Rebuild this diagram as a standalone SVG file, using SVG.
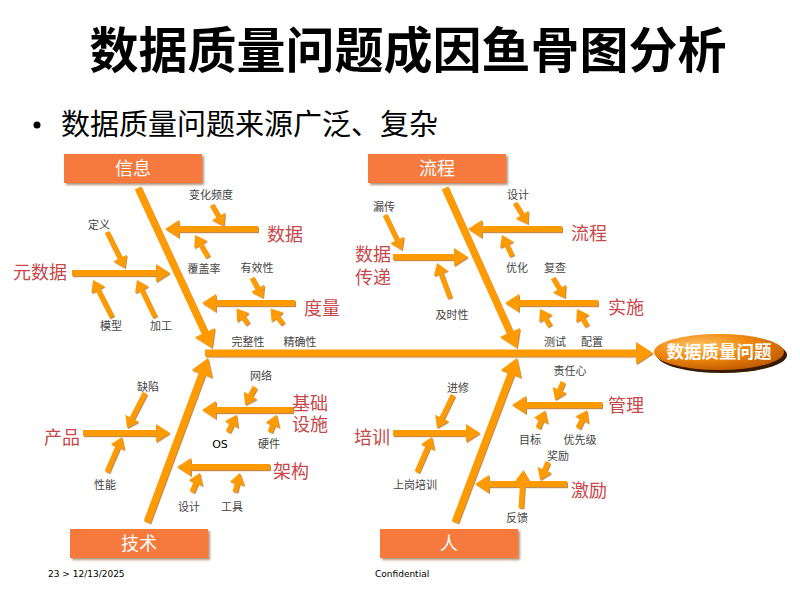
<svg xmlns="http://www.w3.org/2000/svg" width="800" height="600" viewBox="0 0 800 600">
<defs>
<style>
.title{font-family:"Noto Sans CJK SC","Noto Sans",sans-serif;font-weight:bold;font-size:49px;fill:#000;text-anchor:middle}
.bullet{font-family:"Noto Sans CJK SC","Noto Sans",sans-serif;font-size:29px;fill:#000}
.box{fill:#F6793C}
.boxt{font-family:"Noto Sans CJK SC",sans-serif;font-size:18px;fill:#fff;text-anchor:middle}
.red{font-family:"Noto Sans CJK SC",sans-serif;font-size:18px;fill:#C8474A;text-anchor:middle}
.sm{font-family:"Noto Sans CJK SC",sans-serif;font-size:11px;fill:#444;text-anchor:middle}
.os{font-family:"DejaVu Sans",sans-serif;font-size:11px;fill:#000;text-anchor:middle}
.foot{font-family:"DejaVu Sans",sans-serif;font-size:9px;fill:#000}
.bone{stroke:#FF9A00;stroke-width:7;fill:none;marker-end:url(#hb)}
.sub{stroke:#FF9A00;stroke-width:6;fill:none;marker-end:url(#hs)}
.twig{stroke:#FF9A00;stroke-width:5;fill:none;marker-end:url(#ht)}
</style>
<marker id="hb" markerUnits="userSpaceOnUse" markerWidth="18" markerHeight="22" refX="1" refY="11" orient="auto" overflow="visible"><path d="M0,0 L17,11 L0,22 z" fill="#FF9A00"/></marker>
<marker id="hs" markerUnits="userSpaceOnUse" markerWidth="14" markerHeight="18" refX="1" refY="9" orient="auto" overflow="visible"><path d="M0,0 L14,9 L0,18 z" fill="#FF9A00"/></marker>
<marker id="ht" markerUnits="userSpaceOnUse" markerWidth="11" markerHeight="15" refX="1" refY="7.5" orient="auto" overflow="visible"><path d="M0,0 L11,7.5 L0,15 z" fill="#FF9A00"/></marker>
<filter id="sh" x="-10%" y="-10%" width="130%" height="130%"><feDropShadow dx="1" dy="1.2" stdDeviation="0.6" flood-color="#A85A00" flood-opacity="0.7"/></filter>
<filter id="bsh" x="-10%" y="-20%" width="130%" height="150%"><feDropShadow dx="2" dy="2" stdDeviation="1" flood-color="#8a4a20" flood-opacity="0.6"/></filter>
<radialGradient id="eg" cx="0.35" cy="0.3" r="0.75"><stop offset="0" stop-color="#FFC060"/><stop offset="0.5" stop-color="#F08A10"/><stop offset="1" stop-color="#C05A00"/></radialGradient>
</defs>
<rect width="800" height="600" fill="#fff"/>
<text class="title" x="408" y="68">数据质量问题成因鱼骨图分析</text>
<circle cx="37" cy="125" r="3.5" fill="#000"/>
<text class="bullet" x="61" y="135">数据质量问题来源广泛、复杂</text>

<g id="connectors" filter="url(#sh)">
<line class="bone" x1="205" y1="353" x2="637" y2="353"/>
<line class="bone" x1="138" y1="188" x2="205.3" y2="333.5"/>
<line class="bone" x1="445" y1="188" x2="510.4" y2="333.4"/>
<line class="bone" x1="147" y1="522" x2="202.4" y2="373"/>
<line class="bone" x1="455" y1="522" x2="511.3" y2="373"/>
<line class="sub" x1="258" y1="229" x2="178" y2="229"/>
<line class="sub" x1="72" y1="273" x2="157" y2="273"/>
<line class="sub" x1="295" y1="303" x2="215" y2="303"/>
<line class="sub" x1="562" y1="229" x2="481" y2="229"/>
<line class="sub" x1="393" y1="257" x2="455" y2="257"/>
<line class="sub" x1="598" y1="303" x2="518" y2="303"/>
<line class="sub" x1="293" y1="410" x2="215" y2="410"/>
<line class="sub" x1="270" y1="467" x2="190" y2="467"/>
<line class="sub" x1="83" y1="433" x2="157" y2="433"/>
<line class="sub" x1="393" y1="433" x2="467" y2="433"/>
<line class="sub" x1="602" y1="405" x2="525" y2="405"/>
<line class="sub" x1="567" y1="484" x2="488" y2="484"/>
<line class="twig" x1="212" y1="205" x2="219" y2="217.3"/>
<line class="twig" x1="208" y1="257" x2="200.1" y2="243.6"/>
<line class="twig" x1="107" y1="232" x2="120.5" y2="259.1"/>
<line class="twig" x1="112" y1="317" x2="97.6" y2="288.9"/>
<line class="twig" x1="155" y1="317" x2="141.4" y2="289"/>
<line class="twig" x1="252" y1="278" x2="258.2" y2="289.2"/>
<line class="twig" x1="248" y1="324" x2="242.5" y2="316.6"/>
<line class="twig" x1="283" y1="324" x2="276.8" y2="316.3"/>
<line class="twig" x1="515" y1="203" x2="522.7" y2="215.5"/>
<line class="twig" x1="512" y1="256" x2="506.3" y2="244"/>
<line class="twig" x1="385" y1="215" x2="397.6" y2="241"/>
<line class="twig" x1="450" y1="298" x2="440.5" y2="272.4"/>
<line class="twig" x1="553" y1="278" x2="559.9" y2="289.4"/>
<line class="twig" x1="550" y1="326" x2="545.1" y2="317.6"/>
<line class="twig" x1="587" y1="326" x2="582.1" y2="317.6"/>
<line class="twig" x1="255" y1="387" x2="249.9" y2="396.3"/>
<line class="twig" x1="228" y1="432" x2="232.1" y2="423.7"/>
<line class="twig" x1="270" y1="432" x2="273" y2="424.2"/>
<line class="twig" x1="192" y1="492" x2="196.1" y2="482.2"/>
<line class="twig" x1="235" y1="492" x2="237.4" y2="482.7"/>
<line class="twig" x1="145" y1="393" x2="131.6" y2="419.1"/>
<line class="twig" x1="107" y1="472" x2="118.1" y2="446.2"/>
<line class="twig" x1="453" y1="395" x2="441.4" y2="419"/>
<line class="twig" x1="417" y1="472" x2="428.1" y2="446.2"/>
<line class="twig" x1="563" y1="382" x2="559.1" y2="390.9"/>
<line class="twig" x1="538" y1="428" x2="541.4" y2="419.7"/>
<line class="twig" x1="578" y1="428" x2="582.5" y2="419.1"/>
<line class="twig" x1="548" y1="462" x2="544.1" y2="470.9"/>
<line class="twig" x1="521" y1="508" x2="522.8" y2="480.2"/>
</g>

<g id="info"><rect class="box" x="64" y="154" width="138" height="29" filter="url(#bsh)"/><text class="boxt" x="133" y="175">信息</text></g>
<g id="process"><rect class="box" x="368" y="154" width="138" height="29" filter="url(#bsh)"/><text class="boxt" x="437" y="175">流程</text></g>
<g id="tech"><rect class="box" x="70" y="529" width="138" height="29" filter="url(#bsh)"/><text class="boxt" x="139" y="550">技术</text></g>
<g id="people"><rect class="box" x="380" y="529" width="138" height="29" filter="url(#bsh)"/><text class="boxt" x="449" y="550">人</text></g>

<g id="effect">
<ellipse cx="722" cy="355" rx="65" ry="18" fill="#3a1a00"/>
<ellipse cx="719" cy="352" rx="65" ry="18" fill="url(#eg)"/>
<text x="719" y="358" font-family="Noto Sans CJK SC,sans-serif" font-weight="bold" font-size="17.5" fill="#fff" text-anchor="middle">数据质量问题</text>
</g>

<g id="labels-info">
<text class="red" x="285" y="241">数据</text>
<text class="sm" x="211" y="199">变化频度</text>
<text class="sm" x="204" y="273">覆盖率</text>
<text class="red" x="40" y="279">元数据</text>
<text class="sm" x="99" y="229">定义</text>
<text class="sm" x="111" y="330">模型</text>
<text class="sm" x="161" y="330">加工</text>
<text class="red" x="322" y="315">度量</text>
<text class="sm" x="257" y="272">有效性</text>
<text class="sm" x="248" y="346">完整性</text>
<text class="sm" x="300" y="346">精确性</text>
</g>
<g id="labels-process">
<text class="red" x="589" y="240">流程</text>
<text class="sm" x="518" y="199">设计</text>
<text class="sm" x="517" y="272">优化</text>
<text class="red" x="373" y="261"><tspan x="373" y="261">数据</tspan><tspan x="373" y="284">传递</tspan></text>
<text class="sm" x="384" y="211">漏传</text>
<text class="sm" x="452" y="319">及时性</text>
<text class="red" x="626" y="314">实施</text>
<text class="sm" x="555" y="272">复查</text>
<text class="sm" x="555" y="346">测试</text>
<text class="sm" x="592" y="346">配置</text>
</g>
<g id="labels-tech">
<text class="red" x="310" y="410"><tspan x="310" y="410">基础</tspan><tspan x="310" y="431">设施</tspan></text>
<text class="sm" x="261" y="380">网络</text>
<text class="os" x="220" y="448">OS</text>
<text class="sm" x="269" y="448">硬件</text>
<text class="red" x="291" y="478">架构</text>
<text class="sm" x="189" y="511">设计</text>
<text class="sm" x="232" y="511">工具</text>
<text class="red" x="62" y="444">产品</text>
<text class="sm" x="148" y="391">缺陷</text>
<text class="sm" x="105" y="489">性能</text>
</g>
<g id="labels-people">
<text class="red" x="372" y="444">培训</text>
<text class="sm" x="458" y="392">进修</text>
<text class="sm" x="415" y="489">上岗培训</text>
<text class="red" x="626" y="412">管理</text>
<text class="sm" x="570" y="375">责任心</text>
<text class="sm" x="530" y="444">目标</text>
<text class="sm" x="580" y="444">优先级</text>
<text class="red" x="589" y="497">激励</text>
<text class="sm" x="558" y="460">奖励</text>
<text class="sm" x="517" y="522">反馈</text>
</g>
<text class="foot" x="48" y="577">23  &gt; 12/13/2025</text>
<text class="foot" x="375" y="577">Confidential</text>
</svg>
